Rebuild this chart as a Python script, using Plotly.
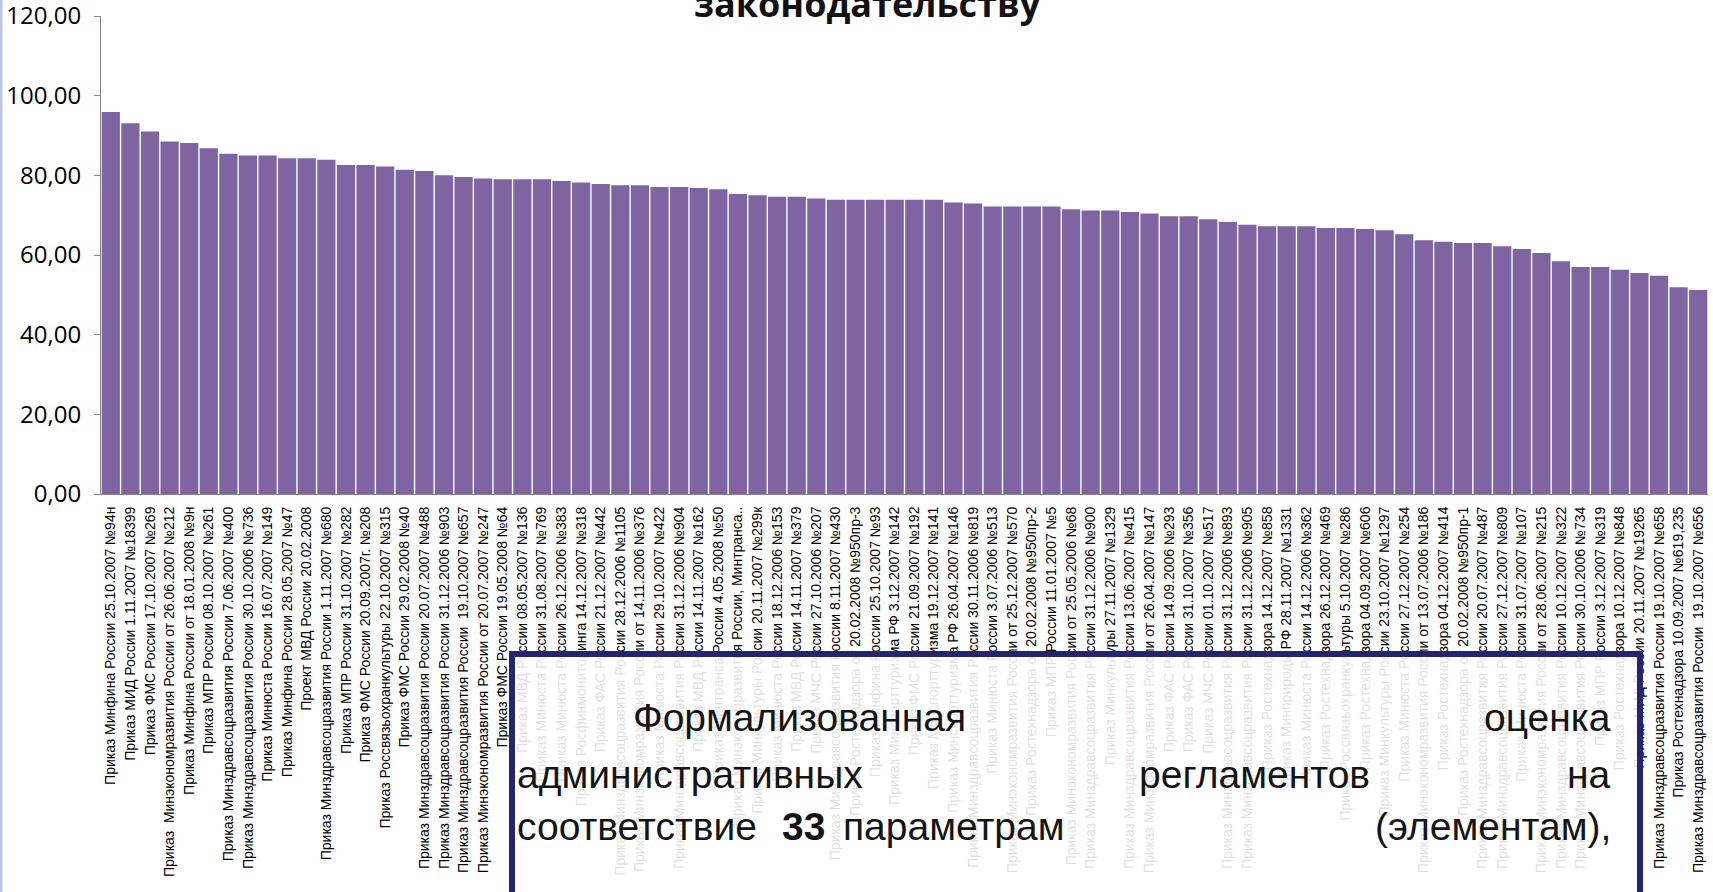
import plotly.graph_objects as go

categories = [
    "Приказ Минфина России 25.10.2007 №94н",
    "Приказ МИД России 1.11.2007 №18399",
    "Приказ ФМС России 17.10.2007 №269",
    "Приказ  Минэкономразвития России от 26.06.2007 №212",
    "Приказ Минфина России от 18.01.2008 №9н",
    "Приказ МПР России 08.10.2007 №261",
    "Приказ Минздравсоцразвития России 7.06.2007 №400",
    "Приказ Минздравсоцразвития России 30.10.2006 №736",
    "Приказ Минюста России 16.07.2007 №149",
    "Приказ Минфина России 28.05.2007 №47",
    "Проект МВД России 20.02.2008",
    "Приказ Минздравсоцразвития России 1.11.2007 №680",
    "Приказ МПР России 31.10.2007 №282",
    "Приказ ФМС России 20.09.2007г. №208",
    "Приказ Россвязьохранкультуры 22.10.2007 №315",
    "Приказ ФМС России 29.02.2008 №40",
    "Приказ Минздравсоцразвития России 20.07.2007 №488",
    "Приказ Минздравсоцразвития России 31.12.2006 №903",
    "Приказ Минздравсоцразвития России  19.10.2007 №657",
    "Приказ Минэкономразвития России от 20.07.2007 №247",
    "Приказ ФМС России 19.05.2008 №64",
    "Приказ МВД России 08.05.2007 №136",
    "Приказ Минюста России 31.08.2007 №769",
    "Приказ Минюста России 26.12.2006 №383",
    "Приказ Росфинмониторинга 14.12.2007 №318",
    "Приказ ФАС России 21.12.2007 №442",
    "Приказ Минздравсоцразвития России 28.12.2006 №1105",
    "Приказ Минэкономразвития России от 14.11.2006 №376",
    "Приказ Минюста России 29.10.2007 №422",
    "Приказ Минздравсоцразвития России 31.12.2006 №904",
    "Приказ МВД России 14.11.2007 №162",
    "Приказ Минтранса России 4.05.2008 №50",
    "Приказ Минэкономразвития России, Минтранса..",
    "Приказ Минкультуры России 20.11.2007 №299к",
    "Приказ Минюста России 18.12.2006 №153",
    "Приказ МВД России 14.11.2007 №379",
    "Приказ МЧС России 27.10.2006 №207",
    "Приказ Минздравсоцразвития России 8.11.2007 №430",
    "Приказ Ростехнадзора от 20.02.2008 №950пр-3",
    "Приказ Минфина России 25.10.2007 №93",
    "Приказ Минспорттуризма РФ 3.12.2007 №142",
    "Приказ ФМС России 21.09.2007 №192",
    "Приказ Минспорттуризма 19.12.2007 №141",
    "Приказ Минспорттуризма РФ 26.04.2007 №146",
    "Приказ Минздравсоцразвития России 30.11.2006 №819",
    "Приказ Минюста России 3.07.2006 №513",
    "Приказ Минэкономразвития России от 25.12.2007 №570",
    "Приказ Ростехнадзора от 20.02.2008 №950пр-2",
    "Приказ МПР России 11.01.2007 №5",
    "Приказ Минэкономразвития России от 25.05.2006 №68",
    "Приказ Минздравсоцразвития России 31.12.2006 №900",
    "Приказ Минкультуры 27.11.2007 №1329",
    "Приказ Минздравсоцразвития России 13.06.2007 №415",
    "Приказ Минэкономразвития России от 26.04.2007 №147",
    "Приказ ФАС России 14.09.2006 №293",
    "Приказ ФАС России 31.10.2007 №356",
    "Приказ МЧС России 01.10.2007 №517",
    "Приказ Минздравсоцразвития России 31.12.2006 №893",
    "Приказ Минздравсоцразвития России 31.12.2006 №905",
    "Приказ Ростехнадзора 14.12.2007 №858",
    "Приказ Минприроды РФ 28.11.2007 №1331",
    "Приказ Минюста России 14.12.2006 №362",
    "Приказ Ростехнадзора 26.12.2007 №469",
    "Приказ Россвязьохранкультуры 5.10.2007 №286",
    "Приказ Ростехнадзора 04.09.2007 №606",
    "Приказ Минкультуры России 23.10.2007 №1297",
    "Приказ Минюста России 27.12.2007 №254",
    "Приказ Минэкономразвития России от 13.07.2006 №186",
    "Приказ Ростехнадзора 04.12.2007 №414",
    "Приказ Ростехнадзора от 20.02.2008 №950пр-1",
    "Приказ Минздравсоцразвития России 20.07.2007 №487",
    "Приказ Минздравсоцразвития России 27.12.2007 №809",
    "Приказ Минюста России 31.07.2007 №107",
    "Приказ Минэкономразвития России от 28.06.2007 №215",
    "Приказ Минздравсоцразвития России 10.12.2007 №322",
    "Приказ Минздравсоцразвития России 30.10.2006 №734",
    "Приказ МПР России 3.12.2007 №319",
    "Приказ Ростехнадзора 10.12.2007 №848",
    "Приказ МИД России 20.11.2007 №19265",
    "Приказ Минздравсоцразвития России 19.10.2007 №658",
    "Приказ Ростехнадзора 10.09.2007 №619,235",
    "Приказ Минздравсоцразвития России  19.10.2007 №656",
]

values = [
    95.9, 93.1, 91.0, 88.5, 88.1, 86.8, 85.4, 85.0, 85.0, 84.3,
    84.3, 83.9, 82.6, 82.6, 82.2, 81.4, 81.1, 80.0, 79.6, 79.2,
    79.0, 79.0, 79.0, 78.6, 78.2, 77.8, 77.5, 77.5, 77.1, 77.1,
    76.8, 76.5, 75.3, 75.0, 74.6, 74.6, 74.2, 73.9, 73.9, 73.9,
    73.9, 73.9, 73.9, 73.2, 72.9, 72.2, 72.2, 72.2, 72.2, 71.5,
    71.2, 71.2, 70.8, 70.4, 69.7, 69.7, 69.0, 68.3, 67.6, 67.2,
    67.2, 67.2, 66.8, 66.8, 66.5, 66.2, 65.2, 63.7, 63.3, 63.0,
    63.0, 62.2, 61.5, 60.5, 58.4, 57.0, 57.0, 56.3, 55.5, 54.8,
    51.9, 51.2,
]

y_ticks = [0, 20, 40, 60, 80, 100, 120]
title_tail = "законодательству"

W, H = 1713, 892
L, R, T, B = 101, 5, 16, 398
PW, PH = W - L - R, H - T - B


def px_x(px):
    return (px - L) / PW


def px_y(py):
    return (H - B - py) / PH


fig = go.Figure()
fig.add_trace(go.Bar(
    x=categories, y=values,
    marker=dict(color="#8064A2", line=dict(width=0)),
    hoverinfo="x+y",
))

box_font = dict(family="Liberation Sans, Arial", size=39, color="#141414")

annotations = [
    dict(text=title_tail, xref="paper", yref="paper", x=px_x(867), y=px_y(3),
         xanchor="center", yanchor="middle", showarrow=False,
         font=dict(family="Open Sans", size=36, color="#111111", weight="bold")),
    # box text, line 1
    dict(text="Формализованная", x=px_x(631), y=px_y(717), xanchor="left"),
    dict(text="оценка", x=px_x(1613), y=px_y(717), xanchor="right"),
    # line 2
    dict(text="административных", x=px_x(515), y=px_y(774), xanchor="left"),
    dict(text="регламентов", x=px_x(1254), y=px_y(774), xanchor="center"),
    dict(text="на", x=px_x(1613), y=px_y(774), xanchor="right"),
    # line 3
    dict(text="соответствие", x=px_x(515), y=px_y(826), xanchor="left"),
    dict(text="<b>33</b>", x=px_x(803), y=px_y(826), xanchor="center"),
    dict(text="параметрам", x=px_x(953), y=px_y(826), xanchor="center"),
    dict(text="(элементам),", x=px_x(1613), y=px_y(826), xanchor="right"),
]
for a in annotations[1:]:
    a.update(xref="paper", yref="paper", yanchor="middle", showarrow=False, font=box_font)

shapes = [
    dict(type="rect", xref="paper", yref="paper",
         x0=px_x(512), x1=px_x(1640), y0=px_y(654), y1=px_y(930),
         line=dict(color="#25256F", width=6), fillcolor="rgba(255,255,255,0.88)", layer="above"),
    dict(type="line", xref="paper", yref="paper",
         x0=px_x(1), x1=px_x(1), y0=px_y(-10), y1=px_y(900),
         line=dict(color="#BFC3E6", width=3), layer="above"),
]

fig.update_layout(
    width=W, height=H,
    margin=dict(l=L, r=R, t=T, b=B, pad=0, autoexpand=False),
    paper_bgcolor="white", plot_bgcolor="white",
    separators=", ",
    bargap=0.07,
    showlegend=False,
    annotations=annotations,
    shapes=shapes,
    xaxis=dict(
        type="category", tickmode="array", tickvals=categories, ticktext=categories,
        tickangle=-90, tickfont=dict(family="Liberation Sans", size=14, color="#000000"),
        showline=True, linecolor="#868686", linewidth=1, ticks="", showgrid=False,
        range=[-0.5, len(categories) - 0.5], ticklabelstandoff=6, automargin=False,
        ticklabeloverflow="allow",
    ),
    yaxis=dict(
        range=[0, 120], tickmode="array", tickvals=y_ticks, tickformat=".2f",
        tickfont=dict(family="Open Sans", size=24, color="#000000"),
        showline=True, linecolor="#868686", linewidth=1, ticks="outside", ticklen=6,
        tickcolor="#868686", showgrid=False, zeroline=False, ticklabelstandoff=8,
        automargin=False, ticklabeloverflow="allow",
    ),
)

fig.write_html(
    "out.html",
    config={"displayModeBar": False},
    post_script="document.body.style.margin='0';document.body.style.overflow='hidden';",
)
